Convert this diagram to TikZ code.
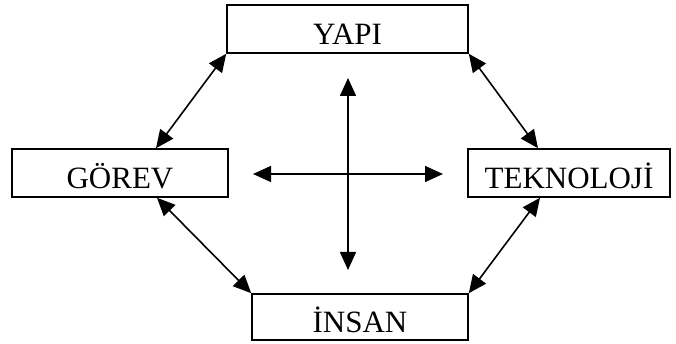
\documentclass[tikz,border=0pt]{standalone}
\usepackage{fontspec}
\setmainfont{Liberation Serif}
\usetikzlibrary{arrows.meta}

\tikzset{
    kutu/.style={draw, rectangle, line width=1.6pt, inner sep=0pt, minimum height=48pt,
        text height=32pt, text depth=0pt, font=\fontsize{31}{37}\selectfont},
    ciftok/.style={line width=1.6pt, {Triangle[length=18pt,width=16pt]}-{Triangle[length=18pt,width=16pt]}}
}

\begin{document}
\begin{tikzpicture}[x=1pt, y=1pt]
    \useasboundingbox (0,0) rectangle (676,344);

    % Nodes
    \node [kutu, minimum width=241pt] (yapi) at (347.5,315) {YAPI};
    \node [kutu, minimum width=216pt] (gorev) at (120,171) {GÖREV};
    \node [kutu, minimum width=202pt] (teknoloji) at (569,171) {TEKNOLOJİ};
    \node [kutu, minimum width=216pt, minimum height=46pt] (insan) at (360,27) {İNSAN};

    \coordinate (ust) at (348,266);
    \coordinate (alt) at (348,74);
    \coordinate (sol) at (253,170);
    \coordinate (sag) at (443,170);

    % Connections
    \draw [ciftok] (yapi.south west) -- ([xshift=36pt]gorev.north);
    \draw [ciftok] (yapi.south east) -- ([xshift=-31pt]teknoloji.north);
    \draw [ciftok] ([xshift=37pt]gorev.south) -- (insan.north west);
    \draw [ciftok] ([xshift=-29pt]teknoloji.south) -- (insan.north east);
    \draw [ciftok] (ust) -- (alt);
    \draw [ciftok] (sol) -- (sag);
\end{tikzpicture}
\end{document}
